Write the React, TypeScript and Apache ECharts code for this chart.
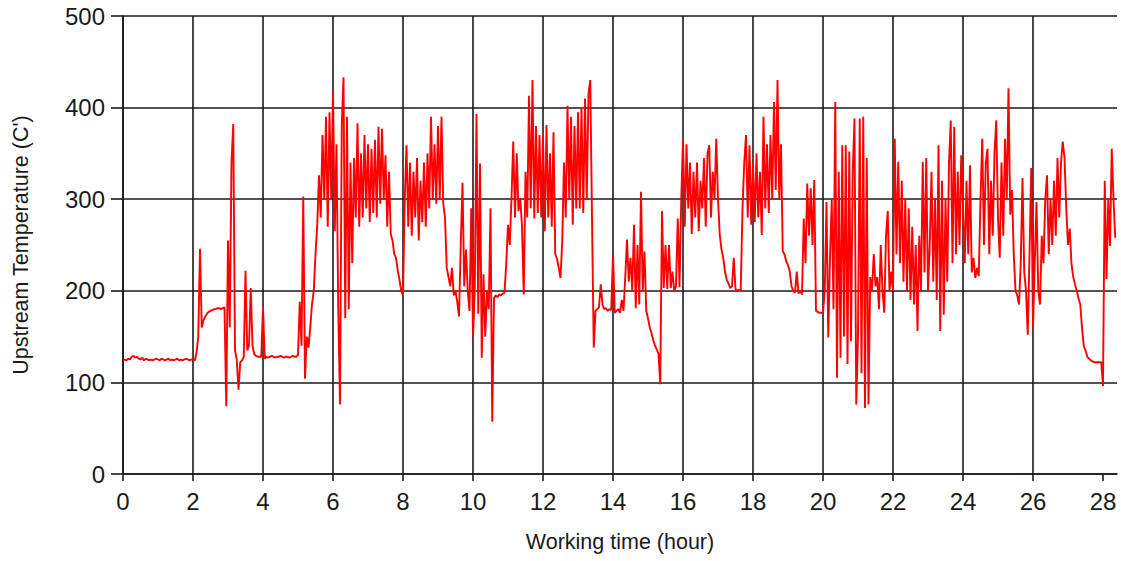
import React, { useEffect, useRef } from "react";
import * as echarts from "echarts";

// Sampling step of the logged temperature (hours)
const SAMPLE_STEP = 0.05;

// Upstream temperature (°C), one array per working hour, samples every 0.05 h
const h00 = [124,125,124,126,125,128,129,127,128,126,125,127,124,126,125,124,125,124,125,126];
const h01 = [125,124,126,125,124,125,126,124,125,124,125,126,124,125,124,125,126,125,124,125];
const h02 = [125,124,132,150,246,160,168,172,175,177,178,179,180,180,181,181,180,181,182,74];
const h03 = [255,160,340,382,135,125,92,122,124,128,222,135,140,203,140,131,129,128,128,128];
const h04 = [182,126,128,127,128,129,128,127,128,128,129,128,127,128,128,127,128,129,128,128];
const h05 = [130,188,140,303,104,150,138,160,185,200,240,272,326,280,370,300,390,270,395,300];
const h06 = [419,265,360,180,76,380,433,170,390,180,340,230,345,280,383,270,350,280,370,290];
const h07 = [360,275,355,285,365,280,379,295,377,300,348,270,330,262,255,240,236,222,212,200];
const h08 = [195,300,359,270,340,260,330,280,345,255,320,275,340,270,350,290,390,300,360,295];
const h09 = [380,300,390,295,280,225,215,205,225,195,200,188,172,250,318,205,245,200,178,290];
const h10 = [150,200,393,175,339,127,218,150,200,180,290,57,192,195,193,196,195,197,198,230];
const h11 = [272,250,301,363,280,350,287,301,270,196,330,280,413,290,430,279,380,285,370,280];
const h12 = [370,265,381,280,350,270,373,240,235,225,214,254,340,280,402,300,390,272,380,290];
const h13 = [395,290,400,285,410,300,415,430,280,138,178,180,182,207,185,180,181,178,180,179];
const h14 = [240,176,178,180,176,190,178,215,256,210,236,200,272,181,250,185,308,200,243,178];
const h15 = [170,160,154,146,140,136,131,98,287,203,250,202,250,203,221,200,205,279,204,300];
const h16 = [366,270,360,290,340,262,330,280,340,265,320,290,345,270,350,359,280,330,300,366];
const h17 = [300,261,245,236,221,212,208,203,205,236,202,200,201,201,290,340,370,280,359,272];
const h18 = [340,275,350,280,330,261,390,290,360,285,370,300,406,310,430,300,360,243,240,232];
const h19 = [228,221,205,200,198,221,197,200,196,279,230,317,260,312,250,321,178,177,176,176];
const h20 = [176,201,297,149,236,300,180,406,105,330,127,359,150,359,120,352,145,330,388,76];
const h21 = [150,388,110,390,72,345,76,215,200,240,205,215,180,250,200,176,260,287,200,221];
const h22 = [200,366,240,341,230,320,210,300,200,290,190,270,185,250,156,260,200,341,220,345];
const h23 = [200,250,330,210,300,190,359,156,320,174,300,210,340,386,230,379,240,330,250,348];
const h24 = [290,230,320,240,337,220,236,214,225,216,300,366,250,340,355,240,320,260,350,386];
const h25 = [280,236,340,260,366,300,421,283,310,240,200,195,185,230,323,220,200,152,240,334];
const h26 = [160,230,297,200,185,260,230,300,326,240,300,250,320,260,345,280,340,363,345,290];
const h27 = [250,268,229,215,207,200,192,185,160,140,135,128,126,124,123,122,122,122,122,122];
const h28 = [96,320,213,300,249,355,300,258];

const HOURLY = [h00,h01,h02,h03,h04,h05,h06,h07,h08,h09,h10,h11,h12,h13,h14,h15,h16,h17,h18,h19,h20,h21,h22,h23,h24,h25,h26,h27,h28];

const X_TICKS = [0,2,4,6,8,10,12,14,16,18,20,22,24,26,28];
const Y_TICKS = [0,100,200,300,400,500];

const X_NAME = "Working time (hour)";
const Y_NAME = "Upstream Temperature (C')";

const FONT = "'Liberation Sans', Arial, sans-serif";
const GRID_COLOR = "#1a1a1a";
const TEXT_COLOR = "#1a1a1a";

export default function App() {
  const ref = useRef<HTMLDivElement>(null);

  useEffect(() => {
    if (!ref.current) return;
    const chart = echarts.init(ref.current, undefined, { renderer: "svg" });

    const data: [number, number][] = [];
    HOURLY.forEach((arr, h) => {
      arr.forEach((v, i) => {
        data.push([+(h + i * SAMPLE_STEP).toFixed(2), v]);
      });
    });

    chart.setOption({
      animation: false,
      backgroundColor: "#ffffff",
      grid: {
        left: 123,
        right: 4,
        top: 16,
        bottom: 87,
        containLabel: false,
        outerBoundsMode: "none",
      },
      xAxis: {
        type: "value",
        min: 0,
        max: 28.4,
        interval: 2,
        name: X_NAME,
        nameLocation: "middle",
        nameGap: 57,
        nameMoveOverlap: false,
        nameTextStyle: { fontFamily: FONT, fontSize: 21.5, color: TEXT_COLOR },
        axisLine: { show: true, onZero: false, lineStyle: { color: GRID_COLOR, width: 1.6 } },
        axisTick: { show: true, length: 7, customValues: X_TICKS, lineStyle: { color: GRID_COLOR, width: 1.6 } },
        axisLabel: {
          customValues: X_TICKS,
          margin: 15,
          fontFamily: FONT,
          fontSize: 24,
          color: TEXT_COLOR,
          formatter: (v: number) => String(v),
        },
        splitLine: { show: true, showMaxLine: false, lineStyle: { color: GRID_COLOR, width: 1.6 } },
      },
      yAxis: {
        type: "value",
        min: 0,
        max: 500,
        interval: 100,
        name: Y_NAME,
        nameLocation: "middle",
        nameGap: 91,
        nameRotate: 90,
        nameMoveOverlap: false,
        nameTextStyle: { fontFamily: FONT, fontSize: 21.5, color: TEXT_COLOR },
        axisLine: { show: true, lineStyle: { color: GRID_COLOR, width: 1.6 } },
        axisTick: { show: true, length: 12, customValues: Y_TICKS, lineStyle: { color: GRID_COLOR, width: 1.6 } },
        axisLabel: {
          customValues: Y_TICKS,
          margin: 18,
          fontFamily: FONT,
          fontSize: 24,
          color: TEXT_COLOR,
        },
        splitLine: { show: true, lineStyle: { color: GRID_COLOR, width: 1.6 } },
      },
      series: [
        {
          type: "line",
          data,
          showSymbol: false,
          symbol: "none",
          lineStyle: { color: "#ff0000", width: 1.9 },
          z: 3,
        },
      ],
    });

    return () => chart.dispose();
  }, []);

  return <div ref={ref} style={{ width: 1121, height: 561, position: "absolute", left: 0, top: 0 }} />;
}
